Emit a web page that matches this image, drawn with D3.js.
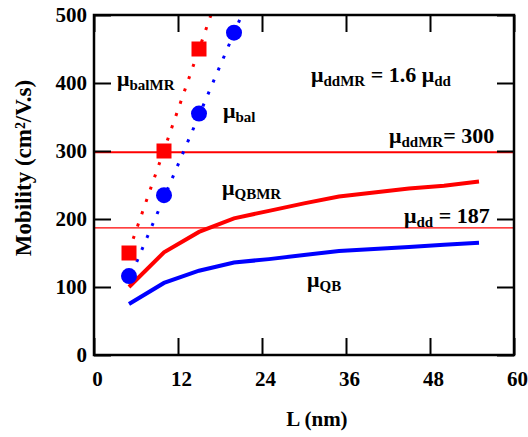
<!DOCTYPE html>
<html>
<head>
<meta charset="utf-8">
<script src="https://cdn.jsdelivr.net/npm/d3@7"></script>
<style>
  html, body { margin: 0; padding: 0; background: #fff; }
  svg text { font-family: "Liberation Serif", "Times New Roman", serif; font-weight: bold; }
</style>
</head>
<body>
<svg id="chart" width="528" height="437"></svg>
<script>
// ---- data ----
const xTicks = [0, 12, 24, 36, 48, 60];
const yTicks = [0, 100, 200, 300, 400, 500];

const qbL   = [5, 10, 15, 20, 25, 30, 35, 40, 45, 50, 55];
const qbMR  = [100, 151, 181, 201, 212, 223, 233, 239, 245, 249, 255];
const qb    = [75, 106, 124, 136, 141, 147, 153, 156, 159, 162, 165];

const balL    = [5, 10, 15, 20];
const bal     = [116, 235, 355, 474];
const balMRL  = [5, 10, 15];
const balMR   = [150, 300, 450];

const balFitL   = [6.1, 21.1];
const balFit    = [137, 500];
const balMRFitL = [5.6, 16.7];
const balMRFit  = [171, 500];

const muDD = 187;
const muDDMR = 298;

// ---- layout ----
const svg = d3.select("#chart");
const x = d3.scaleLinear().domain([0, 60]).range([94, 514]);
const y = d3.scaleLinear().domain([0, 500]).range([355, 15]);
const RED = "#ff0000", BLUE = "#0000ff";

// horizontal reference lines
svg.append("line").attr("x1", x(0)).attr("x2", x(60))
  .attr("y1", y(muDDMR)).attr("y2", y(muDDMR))
  .attr("stroke", RED).attr("stroke-width", 2);
svg.append("line").attr("x1", x(0)).attr("x2", x(60))
  .attr("y1", y(muDD)).attr("y2", y(muDD))
  .attr("stroke", RED).attr("stroke-width", 1.3);

const line = d3.line().x(d => x(d[0])).y(d => y(d[1]));

// dotted fit lines
svg.append("path").datum(d3.zip(balMRFitL, balMRFit)).attr("d", line)
  .attr("fill", "none").attr("stroke", RED).attr("stroke-width", 3)
  .attr("stroke-dasharray", "3,10");
svg.append("path").datum(d3.zip(balFitL, balFit)).attr("d", line)
  .attr("fill", "none").attr("stroke", BLUE).attr("stroke-width", 3)
  .attr("stroke-dasharray", "3,10");

// solid curves
svg.append("path").datum(d3.zip(qbL, qbMR)).attr("d", line)
  .attr("fill", "none").attr("stroke", RED).attr("stroke-width", 4);
svg.append("path").datum(d3.zip(qbL, qb)).attr("d", line)
  .attr("fill", "none").attr("stroke", BLUE).attr("stroke-width", 4);

// markers
svg.selectAll("circle.bal").data(d3.zip(balL, bal)).enter().append("circle")
  .attr("cx", d => x(d[0])).attr("cy", d => y(d[1])).attr("r", 8)
  .attr("fill", BLUE);
svg.selectAll("rect.balmr").data(d3.zip(balMRL, balMR)).enter().append("rect")
  .attr("x", d => x(d[0]) - 7.5).attr("y", d => y(d[1]) - 7.5)
  .attr("width", 15).attr("height", 15).attr("fill", RED);

// axes (ticks inside, on all four sides)
const tl = 17;
const gB = svg.append("g").attr("transform", `translate(0,${y(0)})`)
  .call(d3.axisBottom(x).tickValues(xTicks).tickSizeInner(-tl).tickSizeOuter(0).tickPadding(16));
const gT = svg.append("g").attr("transform", `translate(0,${y(500)})`)
  .call(d3.axisTop(x).tickValues(xTicks).tickSizeInner(-tl).tickSizeOuter(0).tickFormat(""));
const gL = svg.append("g").attr("transform", `translate(${x(0)},0)`)
  .call(d3.axisLeft(y).tickValues(yTicks).tickSizeInner(-tl).tickSizeOuter(0).tickPadding(7));
const gR = svg.append("g").attr("transform", `translate(${x(60)},0)`)
  .call(d3.axisRight(y).tickValues(yTicks).tickSizeInner(-tl).tickSizeOuter(0).tickFormat(""));
[gB, gT, gL, gR].forEach(g => {
  g.select(".domain").remove();
  g.selectAll(".tick line").attr("stroke", "#000").attr("stroke-width", 2);
  g.selectAll("text").attr("fill", "#000").style("font-size", "21px")
    .style("font-family", "Liberation Serif, serif").style("font-weight", "bold");
});
gB.selectAll("text").attr("dx", 3);
// frame
svg.append("rect").attr("x", x(0)).attr("y", y(500))
  .attr("width", x(60) - x(0)).attr("height", y(0) - y(500))
  .attr("fill", "none").attr("stroke", "#000").attr("stroke-width", 2.5);

// axis titles
svg.append("text").attr("x", 317).attr("y", 426).attr("text-anchor", "middle")
  .style("font-size", "21px").text("L (nm)");
svg.append("text").attr("transform", "translate(31,168) rotate(-90)")
  .attr("text-anchor", "middle").style("font-size", "23px").text("Mobility (cm²/V.s)");

// annotations
function label(px, py, parts) {
  const t = svg.append("text").attr("x", px).attr("y", py).attr("fill", "#000");
  parts.forEach(p => {
    const s = t.append("tspan").text(p[0]);
    if (p[1] === "sub") s.style("font-size", "15px").attr("dy", 4);
    else { s.style("font-size", "22px"); if (p[2]) s.attr("dy", p[2]); }
  });
}
label(117, 86, [["μ"], ["balMR", "sub"]]);
label(223, 118, [["μ"], ["bal", "sub"]]);
label(311, 82, [["μ"], ["ddMR", "sub"], [" = 1.6 μ", "main", -4], ["dd", "sub"]]);
label(389, 143, [["μ"], ["ddMR", "sub"], ["= 300", "main", -4]]);
label(222, 195, [["μ"], ["QBMR", "sub"]]);
label(404, 223, [["μ"], ["dd", "sub"], [" = 187", "main", -4]]);
label(307, 287, [["μ"], ["QB", "sub"]]);
</script>
</body>
</html>
